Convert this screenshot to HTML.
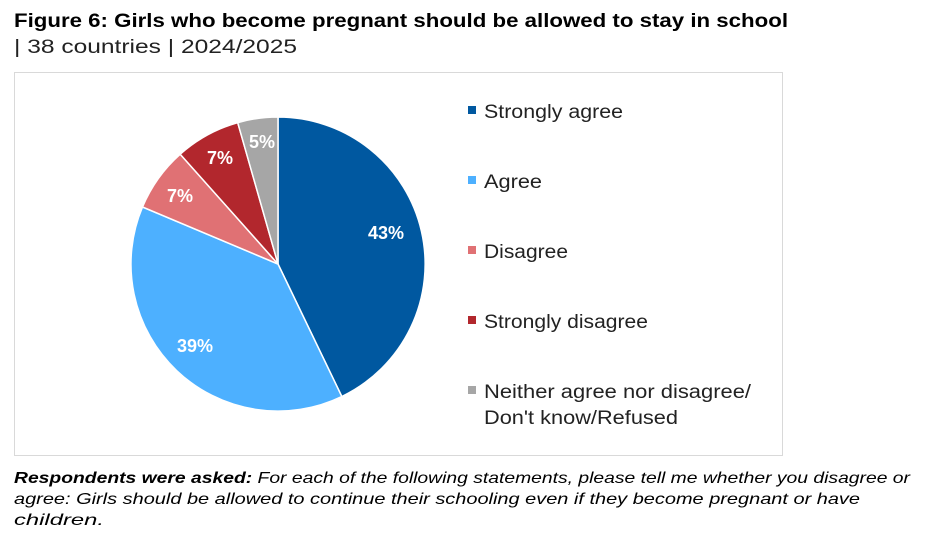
<!DOCTYPE html>
<html><head><meta charset="utf-8"><style>
body{margin:0;background:#fff;width:927px;height:534px;overflow:hidden;font-family:"Liberation Sans",sans-serif;}
</style></head><body>
<svg width="927" height="534" xmlns="http://www.w3.org/2000/svg" font-family="Liberation Sans, sans-serif">
<text x="14" y="27" font-size="19" font-weight="bold" fill="#000" textLength="774" lengthAdjust="spacingAndGlyphs">Figure 6: Girls who become pregnant should be allowed to stay in school</text>
<text x="14" y="53" font-size="19" fill="#222" textLength="283" lengthAdjust="spacingAndGlyphs">| 38 countries | 2024/2025</text>
<rect x="14.5" y="72.5" width="768" height="383" fill="#fff" stroke="#d9d9d9"/>
<g stroke="#fff" stroke-width="1.5">
<path d="M278,264 L278,117 A147,147 0 0 1 341.8,396.5 Z" fill="#0058a0"/>
<path d="M278,264 L341.8,396.5 A147,147 0 0 1 142.5,207.0 Z" fill="#4db0ff"/>
<path d="M278,264 L142.5,207.0 A147,147 0 0 1 180.2,154.2 Z" fill="#e07174"/>
<path d="M278,264 L180.2,154.2 A147,147 0 0 1 237.7,122.6 Z" fill="#b2272d"/>
<path d="M278,264 L237.7,122.6 A147,147 0 0 1 278,117 Z" fill="#a6a6a6"/>
</g>
<g fill="#fff" font-size="18" font-weight="bold" text-anchor="middle">
<text x="386" y="239">43%</text>
<text x="195" y="352">39%</text>
<text x="180" y="202">7%</text>
<text x="220" y="164">7%</text>
<text x="262" y="148">5%</text>
</g>
<g font-size="19" fill="#222" lengthAdjust="spacingAndGlyphs">
<rect x="468" y="106" width="8" height="8" fill="#0058a0"/><text x="484" y="118" textLength="139" lengthAdjust="spacingAndGlyphs">Strongly agree</text>
<rect x="468" y="176" width="8" height="8" fill="#4db0ff"/><text x="484" y="188" textLength="58" lengthAdjust="spacingAndGlyphs">Agree</text>
<rect x="468" y="246" width="8" height="8" fill="#e07174"/><text x="484" y="258" textLength="84" lengthAdjust="spacingAndGlyphs">Disagree</text>
<rect x="468" y="316" width="8" height="8" fill="#b2272d"/><text x="484" y="328" textLength="164" lengthAdjust="spacingAndGlyphs">Strongly disagree</text>
<rect x="468" y="386" width="8" height="8" fill="#a6a6a6"/><text x="484" y="398" textLength="267" lengthAdjust="spacingAndGlyphs">Neither agree nor disagree/</text>
<text x="484" y="424" textLength="194" lengthAdjust="spacingAndGlyphs">Don't know/Refused</text>
</g>
<g font-size="16" font-style="italic" fill="#000">
<text x="14" y="483" textLength="896" lengthAdjust="spacingAndGlyphs"><tspan font-weight="bold">Respondents were asked:</tspan> For each of the following statements, please tell me whether you disagree or</text>
<text x="14" y="504" textLength="846" lengthAdjust="spacingAndGlyphs">agree: Girls should be allowed to continue their schooling even if they become pregnant or have</text>
<text x="14" y="525" textLength="90" lengthAdjust="spacingAndGlyphs">children.</text>
</g>
</svg>
</body></html>
